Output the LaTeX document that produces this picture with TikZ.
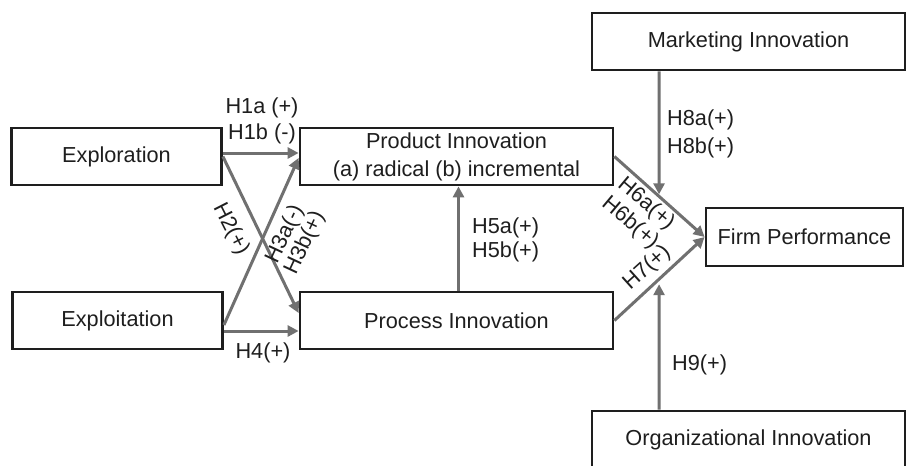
\documentclass[tikz,border=0pt]{standalone}
\usepackage{fontspec}
\setmainfont{Liberation Sans}
\usetikzlibrary{arrows.meta}
\definecolor{arrgrey}{HTML}{707070}
\definecolor{boxblack}{HTML}{1E1E1E}
\begin{document}
\begin{tikzpicture}[x=1pt,y=-1pt,
  every node/.style={font=\fontsize{21.7}{28}\selectfont, text=boxblack},
  box/.style={draw=boxblack, line width=2.8pt, rectangle, inner sep=0pt, minimum height=57pt, align=center},
  link/.style={draw=arrgrey, line width=3pt, -{Triangle[length=11pt,width=11pt]}},
  lab/.style={inner sep=0pt},
]
\useasboundingbox (0,0) rectangle (906,466);
\clip (0,0) rectangle (906,466);
\fill[white] (0,0) rectangle (906,466);

\node[box, minimum width=210pt] (explor) at (116.5,156.5) {Exploration};
\node[box, minimum width=210pt] (exploit) at (117.5,320.5) {Exploitation};
\node[box, minimum width=313pt] (prod) at (456.5,156.5) {Product Innovation\\(a) radical (b) incremental};
\node[box, minimum width=313pt] (proc) at (456.5,320.5) {Process Innovation};
\node[box, minimum width=197pt, minimum height=58pt] (firm) at (804.5,237) {Firm Performance};
\node[box, minimum width=313pt] (mkt) at (748.5,41.5) {Marketing Innovation};
\node[box, minimum width=313pt] (org) at (748.5,439.5) {Organizational Innovation};

% connectors
\draw[link] ([yshift=3.5pt]explor.east) -- ([yshift=3.5pt]prod.west);
\draw[link] (explor.east) -- ([yshift=7.5pt]proc.west);
\draw[link] ([yshift=-4.5pt]exploit.east) -- ([yshift=-1.5pt]prod.west);
\draw[link] ([yshift=-10.5pt]exploit.east) -- ([yshift=-10.5pt]proc.west);
\draw[link] ([xshift=2pt]proc.north) -- ([xshift=2pt]prod.south);
\draw[link] (prod.east) -- (firm.west);
\draw[link] (proc.east) -- (firm.west);
\coordinate (h8end) at (intersection cs: first line={(prod.east)--(firm.west)}, second line={([xshift=-89.5pt]mkt.south)--([xshift=-89.5pt]org.north)});
\coordinate (h9end) at (intersection cs: first line={(proc.east)--(firm.west)}, second line={([xshift=-89.5pt]mkt.south)--([xshift=-89.5pt]org.north)});
\draw[link, shorten >=2pt] ([xshift=-89.5pt]mkt.south) -- (h8end);
\draw[link, shorten >=5pt] ([xshift=-89.5pt]org.north) -- (h9end);

% labels
\node[lab] (l1a) at (262,108) {H1a (+)};
\node[lab] (l1b) at (262,134) {H1b (-)};
\node[lab, rotate=-63] (l2) at (231,229) {H2(+)};
\node[lab, rotate=65] (l3a) at (285,234) {H3a(-)};
\node[lab, rotate=65] (l3b) at (305,243) {H3b(+)};
\node[lab] (l4) at (263,353) {H4(+)};
\node[lab, anchor=west] (l5a) at (472,228) {H5a(+)};
\node[lab, anchor=west] (l5b) at (472,252) {H5b(+)};
\node[lab, rotate=-40] (l6a) at (646,204) {H6a(+)};
\node[lab, rotate=-40] (l6b) at (630,223) {H6b(+)};
\node[lab, rotate=42] (l7) at (647,268) {H7(+)};
\node[lab, anchor=west] (l8a) at (667,120) {H8a(+)};
\node[lab, anchor=west] (l8b) at (667,148) {H8b(+)};
\node[lab, anchor=west] (l9) at (672,365) {H9(+)};
\end{tikzpicture}
\end{document}
